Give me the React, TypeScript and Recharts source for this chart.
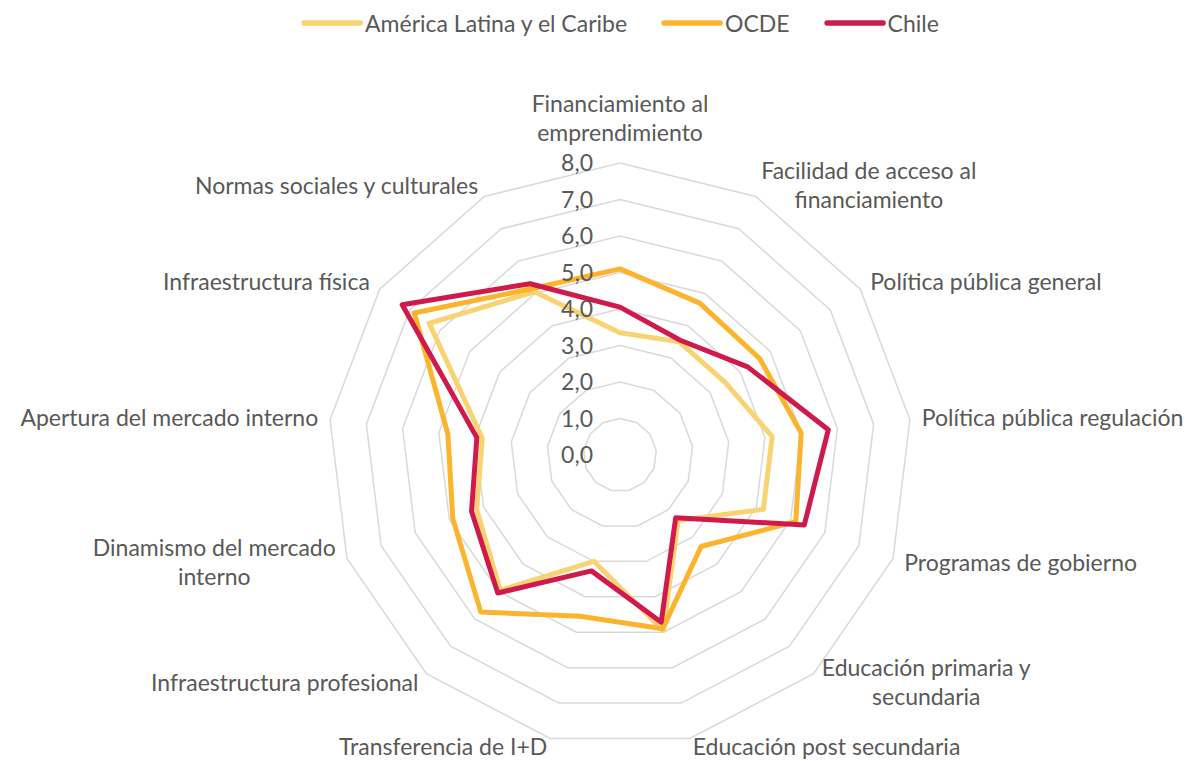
import React from 'react';
import { RadarChart, Radar, PolarGrid, PolarAngleAxis, PolarRadiusAxis } from 'recharts';

const categories = [
  'Financiamiento al\nemprendimiento',
  'Facilidad de acceso al\nfinanciamiento',
  'Política pública general',
  'Política pública regulación',
  'Programas de gobierno',
  'Educación primaria y\nsecundaria',
  'Educación post secundaria',
  'Transferencia de I+D',
  'Infraestructura profesional',
  'Dinamismo del mercado\ninterno',
  'Apertura del mercado interno',
  'Infraestructura física',
  'Normas sociales y culturales',
];

const alcValues = [3.35, 3.5, 3.5, 4.2, 4.2, 2.4, 4.95, 3.0, 4.95, 4.2, 3.8, 6.35, 5.05];
const ocdeValues = [5.1, 4.7, 4.65, 5.0, 5.15, 3.35, 4.9, 4.55, 5.75, 4.9, 4.75, 6.85, 5.15];
const chileValues = [4.05, 3.55, 4.25, 5.75, 5.4, 2.3, 4.72, 3.27, 5.05, 4.35, 3.95, 7.25, 5.3];

const seriesNames = ['América Latina y el Caribe', 'OCDE', 'Chile'];
const seriesKeys = ['alc', 'ocde', 'chile'];
const seriesColors = ['#F8D372', '#FCB42C', '#D11A4C'];

const radiusDomain: [number, number] = [0, 8];
const radiusTickCount = 9;

const data = categories.map((c, i) => ({
  cat: c,
  alc: alcValues[i],
  ocde: ocdeValues[i],
  chile: chileValues[i],
}));

const W = 1191;
const H = 761;
const CX = 620;
const CY = 455;
const R = 292;
const FS = 23;
const LH = 29;
const FONT = 'Lato, "Open Sans", sans-serif';
const TEXT = '#595959';

let ctx: CanvasRenderingContext2D | null = null;
function measure(t: string): number {
  if (!ctx) ctx = document.createElement('canvas').getContext('2d');
  if (!ctx) return t.length * FS * 0.5;
  ctx.font = `${FS}px Lato`;
  return ctx.measureText(t).width;
}

const AngleTick = (props: any) => {
  const { payload } = props;
  const label = String(payload.value);
  const idx = categories.indexOf(label);
  const a = (idx * 2 * Math.PI) / categories.length;
  const dx = Math.sin(a);
  const dy = -Math.cos(a);
  const r = R + 12;
  const ax = CX + r * dx;
  const ay = CY + r * dy;
  const lines = label.split('\n');
  const w = Math.max(...lines.map(measure));
  let left: number;
  if (Math.abs(dx) < 0.1) left = ax - w / 2;
  else if (dx > 0) left = ax;
  else left = ax - w;
  const centerX = left + w / 2;
  let base0: number;
  if (Math.abs(dx) < 0.1 && dy < 0) base0 = ay - 10 - (lines.length - 1) * LH;
  else if (dy > 0.9) base0 = ay + 5;
  else base0 = ay - ((lines.length - 1) * LH) / 2 + 8;
  return (
    <text fontFamily={FONT} fontSize={FS} fill={TEXT} textAnchor="middle">
      {lines.map((l, i) => (
        <tspan key={i} x={centerX} y={base0 + i * LH}>
          {l}
        </tspan>
      ))}
    </text>
  );
};

const RadiusTick = (props: any) => {
  const { x, y, payload } = props;
  return (
    <text x={x - 27} y={y + 8} textAnchor="end" fontFamily={FONT} fontSize={FS} fill={TEXT}>
      {Number(payload.value).toFixed(1).replace('.', ',')}
    </text>
  );
};

export default function App() {
  return (
    <div style={{ position: 'relative', width: W, height: H, margin: '-8px 0 0 -8px', fontFamily: FONT }}>
      <RadarChart
        width={W}
        height={H}
        cx={CX}
        cy={CY}
        outerRadius={R}
        data={data}
        startAngle={90}
        endAngle={-270}
        margin={{ top: 0, right: 0, bottom: 0, left: 0 }}
      >
        <PolarGrid gridType="polygon" radialLines={false} stroke="#D9D9D9" strokeWidth={1.5} />
        <PolarAngleAxis dataKey="cat" tick={<AngleTick />} tickLine={false} axisLine={false} />
        <PolarRadiusAxis
          angle={90}
          domain={radiusDomain}
          tickCount={radiusTickCount}
          tick={<RadiusTick />}
          axisLine={false}
          tickLine={false}
        />
        {seriesKeys.map((k, i) => (
          <Radar
            key={k}
            dataKey={k}
            name={seriesNames[i]}
            stroke={seriesColors[i]}
            strokeWidth={5}
            strokeLinejoin="round"
            fill="none"
            fillOpacity={0}
            dot={false}
            isAnimationActive={false}
          />
        ))}
      </RadarChart>
      <div
        style={{
          position: 'absolute',
          top: 8,
          left: CX,
          transform: 'translateX(-50%)',
          height: 30,
          display: 'flex',
          alignItems: 'center',
          whiteSpace: 'nowrap',
        }}
      >
        {seriesNames.map((n, i) => (
          <div key={n} style={{ display: 'flex', alignItems: 'center', marginRight: i < seriesNames.length - 1 ? 34 : 0 }}>
            <svg width={62} height={8}>
              <line x1={3} x2={59} y1={4} y2={4} stroke={seriesColors[i]} strokeWidth={5.5} strokeLinecap="round" />
            </svg>
            <span style={{ fontSize: FS, color: TEXT, marginLeft: 2, lineHeight: '30px' }}>{n}</span>
          </div>
        ))}
      </div>
    </div>
  );
}
